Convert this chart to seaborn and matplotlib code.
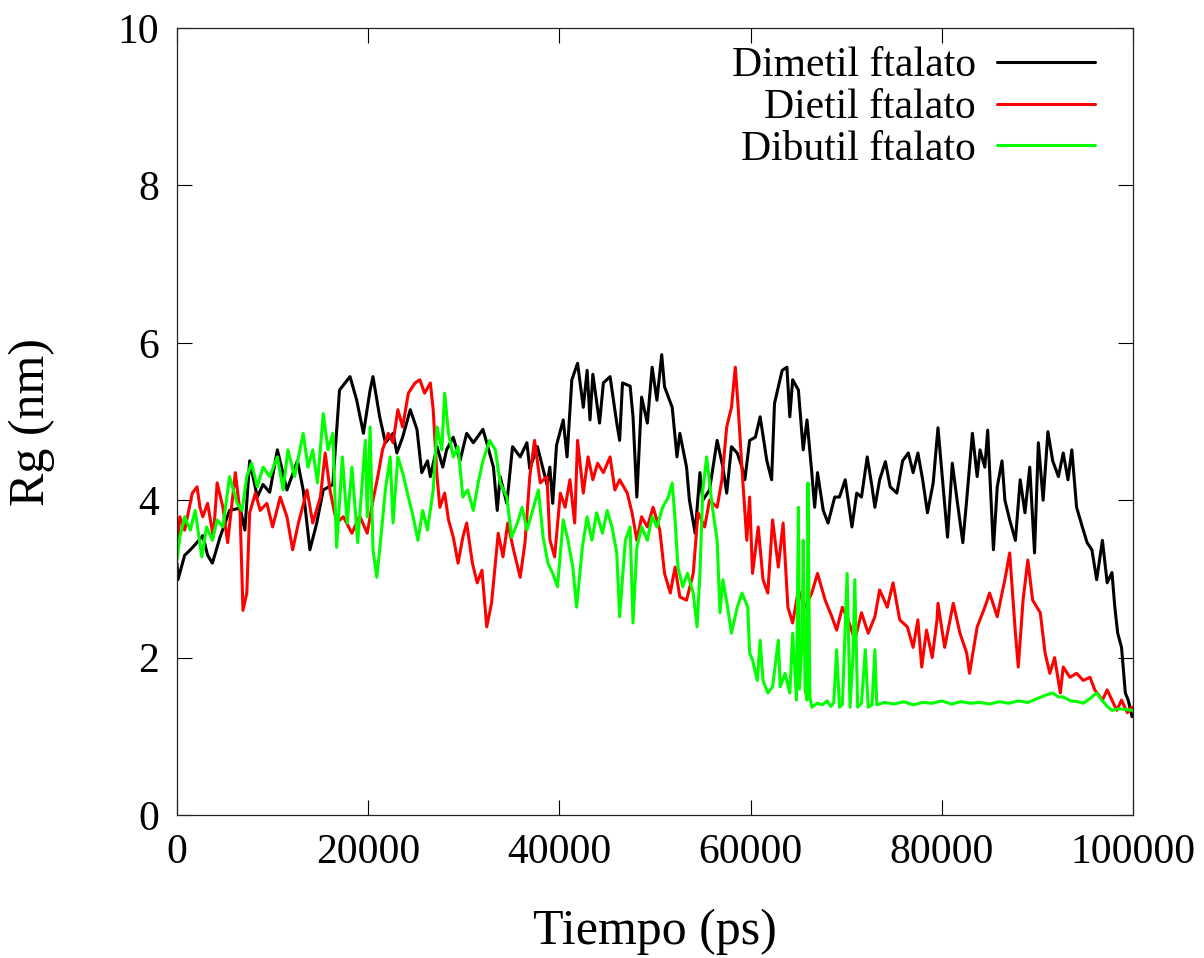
import numpy as np
import pandas as pd
import matplotlib
matplotlib.use("Agg")
import matplotlib.pyplot as plt
import seaborn as sns

# -----------------------------
# DATA
# -----------------------------
series_names = ["Dimetil ftalato", "Dietil ftalato", "Dibutil ftalato"]
series_colors = ["#000000", "#ff0000", "#00ff00"]

t_dimetil = [0, 100, 800, 1400, 2000, 2700, 3200, 3700, 4500, 5000, 5500, 6600, 7100, 7600,
             8400, 9000, 9700, 10500, 11500, 12600, 13200, 13900, 14600, 15300, 16300, 17000,
             18100, 18800, 19500, 20200, 20500, 21200, 21800, 22600, 23000, 23600, 24400, 25100,
             25600, 26200, 26500, 27200, 27800, 28200, 28900, 29600, 30300, 31000, 32000, 32400,
             33100, 33500, 33800, 34500, 35100, 35900, 36600, 36900, 37700, 38700, 39000, 39300,
             39700, 40400, 40800, 41300, 41900, 42500, 42900, 43200, 43500, 44200, 44600, 45300,
             46000, 46300, 46600, 47400, 47700, 48100, 48600, 49200, 49700, 50200, 50700, 51000,
             51800, 52300, 52600, 53300, 53600, 54200, 54700, 55000, 55700, 56500, 57100, 57500,
             58000, 58600, 59100, 59400, 59900, 60500, 61000, 61700, 62200, 62500, 63300, 63800,
             64100, 64400, 65000, 65500, 65900, 66400, 66700, 67000, 67600, 68100, 68800, 69300,
             69900, 70600, 71100, 71600, 72200, 72700, 73000, 73500, 74100, 74600, 75300, 75900,
             76500, 77000, 77500, 78000, 78500, 79100, 79600, 80100, 80600, 81100, 81600, 82200,
             82600, 83200, 83700, 84000, 84500, 84800, 85400, 85800, 86300, 86600, 87100, 87700,
             88200, 88700, 89200, 89700, 90100, 90600, 91100, 91600, 92200, 92700, 93200, 93600,
             94100, 94700, 95200, 95700, 96200, 96800, 97300, 97800, 98100, 98400, 98800, 99200,
             99500, 99900]
rg_dimetil = [3.2, 2.99, 3.3, 3.37, 3.45, 3.55, 3.3, 3.2, 3.53, 3.7, 3.87, 3.9, 3.62, 4.5,
              4.04, 4.2, 4.1, 4.64, 4.13, 4.5, 4.13, 3.37, 3.7, 4.13, 4.2, 5.4,
              5.57, 5.27, 4.85, 5.4, 5.57, 5.06, 4.73, 4.85, 4.6, 4.8, 5.15, 4.9,
              4.35, 4.5, 4.3, 4.68, 4.42, 4.64, 4.8, 4.5, 4.85, 4.73, 4.9, 4.73,
              4.42, 3.87, 4.3, 3.96, 4.68, 4.55, 4.73, 4.4, 4.68, 4.2, 4.42, 3.96,
              4.7, 5.02, 4.55, 5.53, 5.74, 5.18, 5.65, 5.02, 5.6, 4.98, 5.49, 5.57,
              4.98, 4.76, 5.49, 5.45, 5.06, 4.04, 5.31, 4.98, 5.69, 5.27, 5.85, 5.44,
              5.18, 4.55, 4.85, 4.42, 4.0, 3.58, 4.35, 4.0, 4.13, 4.76, 4.42, 4.09,
              4.68, 4.6, 4.42, 4.26, 4.76, 4.8, 5.06, 4.5, 4.26, 5.23, 5.65, 5.69,
              5.06, 5.53, 5.4, 4.64, 5.02, 4.35, 3.91, 4.35, 3.87, 3.71, 4.04, 4.04,
              4.26, 3.66, 4.09, 4.04, 4.55, 4.17, 3.91, 4.26, 4.49, 4.17, 4.09, 4.5,
              4.6, 4.35, 4.6, 4.26, 3.84, 4.22, 4.92, 4.22, 3.53, 4.47, 4.0, 3.46,
              4.0, 4.85, 4.3, 4.64, 4.42, 4.89, 3.37, 4.17, 4.5, 4.0, 3.75, 3.49,
              4.26, 3.84, 4.42, 3.33, 4.73, 4.0, 4.87, 4.5, 4.3, 4.6, 4.26, 4.64,
              3.91, 3.66, 3.46, 3.37, 2.99, 3.49, 2.95, 3.08, 2.64, 2.31, 2.13, 1.55,
              1.46, 1.25]

t_dietil = [0, 300, 800, 1600, 2100, 2400, 2700, 3200, 3800, 4200, 4800, 5300, 6100, 6600,
            6900, 7300, 7600, 8200, 8700, 9400, 10000, 10800, 11500, 12100, 12700, 13600,
            14200, 15000, 15500, 16000, 16700, 17400, 18300, 19100, 19900, 20500, 21000, 21500,
            22100, 22600, 23100, 23600, 24200, 24900, 25400, 25900, 26500, 26800, 27200, 27500,
            28000, 28400, 28900, 29400, 29900, 30300, 30900, 31400, 31900, 32400, 32900, 33300,
            33600, 34100, 34600, 35200, 35900, 36400, 36900, 37400, 38000, 38700, 39000, 39500,
            40100, 40600, 41100, 41600, 41900, 42500, 43000, 43500, 44000, 44600, 45300, 45800,
            46300, 47100, 47600, 48100, 48600, 49200, 49800, 50500, 51000, 51600, 52100, 52600,
            53300, 54000, 54500, 55200, 55700, 56500, 57000, 57500, 58000, 58400, 58700, 59100,
            59600, 59900, 60200, 60800, 61300, 61800, 62300, 62900, 63400, 63900, 64400, 65000,
            65700, 66400, 67000, 67800, 68500, 69000, 69600, 70200, 70900, 71600, 72300, 73000,
            73500, 74300, 74900, 75600, 76400, 77000, 77500, 77900, 78400, 79000, 79500, 79600,
            80300, 81200, 81900, 82600, 82900, 83700, 84500, 85000, 85800, 86300, 86600, 87100,
            87700, 88000, 88500, 89000, 89500, 90300, 90800, 91300, 91800, 92400, 92700, 93400,
            94100, 94800, 95500, 96000, 96800, 97300, 97800, 98300, 98800, 99400, 99900]
rg_dietil = [3.4, 3.79, 3.62, 4.09, 4.17, 3.91, 3.79, 3.96, 3.53, 4.22, 3.91, 3.46, 4.35, 3.84,
             2.6, 2.82, 3.84, 4.09, 3.87, 3.96, 3.66, 4.04, 3.79, 3.37, 3.71, 4.13,
             3.71, 4.04, 4.6, 4.13, 3.71, 3.79, 3.58, 3.8, 3.58, 4.0, 4.3, 4.64,
             4.85, 4.73, 5.15, 4.93, 5.36, 5.49, 5.53, 5.36, 5.49, 5.15, 4.3, 3.91,
             4.09, 3.75, 3.53, 3.2, 3.53, 3.71, 3.2, 2.95, 3.11, 2.39, 2.69, 3.2,
             3.58, 3.28, 3.71, 3.37, 3.02, 3.46, 4.3, 4.76, 4.22, 4.3, 3.5, 3.28,
             4.09, 3.91, 4.26, 3.71, 4.76, 4.09, 4.55, 4.26, 4.47, 4.35, 4.55, 4.13,
             4.26, 4.09, 3.84, 3.49, 3.79, 3.66, 3.91, 3.62, 3.07, 2.82, 3.15, 2.77,
             2.73, 3.07, 3.84, 3.66, 4.0, 3.91, 4.26, 4.93, 5.18, 5.69, 5.18, 4.4,
             3.49, 4.04, 3.07, 3.66, 2.99, 2.82, 3.75, 3.15, 3.71, 2.64, 2.44, 2.86,
             2.64, 2.82, 3.07, 2.73, 2.52, 2.35, 2.64, 2.48, 2.22, 2.57, 2.31, 2.52,
             2.86, 2.64, 2.95, 2.48, 2.39, 2.13, 2.48, 1.88, 2.35, 2.0, 2.48, 2.69,
             2.13, 2.69, 2.31, 2.06, 1.8, 2.39, 2.64, 2.82, 2.52, 2.82, 2.99, 3.33,
             2.31, 1.88, 2.73, 3.24, 2.73, 2.57, 2.06, 1.8, 2.0, 1.55, 1.88, 1.75,
             1.8, 1.71, 1.75, 1.59, 1.46, 1.59, 1.46, 1.33, 1.46, 1.3, 1.37]

t_dibutil = [0, 300, 800, 1400, 1900, 2600, 3100, 3700, 4200, 4800, 5500, 6300, 6800, 7300,
             7800, 8400, 9000, 9700, 10500, 11100, 11600, 12300, 13200, 13700, 14200, 14700,
             15300, 15800, 16300, 16700, 17300, 17800, 18300, 18900, 19700, 19900, 20200, 20500,
             20900, 21200, 21800, 22300, 22600, 23100, 23600, 24200, 24700, 25200, 25700, 26200,
             26800, 27200, 27700, 28000, 28400, 28900, 29400, 29900, 30400, 31000, 31500, 32000,
             32700, 33300, 33800, 34500, 35000, 35600, 36100, 36600, 37200, 37800, 38300, 38800,
             39300, 39800, 40400, 40900, 41400, 41800, 42400, 42900, 43400, 43900, 44500, 45000,
             45500, 46000, 46300, 46900, 47400, 47700, 48100, 48600, 49200, 49700, 50200, 50800,
             51400, 51800, 52100, 52400, 52900, 53400, 54000, 54400, 54700, 55000, 55400, 56000,
             56500, 56800, 57100, 57600, 58000, 58600, 59100, 59400, 59700, 59900, 60200, 60700,
             61000, 61300, 61800, 62300, 62900, 63100, 63600, 64100, 64400, 64800, 65000, 65100,
             65400, 65500, 65700, 65900, 66000, 66200, 66400, 67000, 67500, 68000, 68400, 68700,
             69000, 69300, 69600, 70100, 70400, 70700, 70900, 71200, 71600, 72000, 72300, 72700,
             73000, 73200, 74000, 75000, 76000, 77000, 78000, 79000, 80000, 81000, 82000, 83000,
             84000, 85000, 86000, 87000, 88000, 89000, 90000, 90800, 91600, 92200, 92700, 93500,
             94200, 94800, 95500, 96200, 96800, 97300, 97800, 98500, 99200, 99900]
rg_dibutil = [3.24, 3.53, 3.79, 3.62, 3.87, 3.28, 3.66, 3.49, 3.75, 3.66, 4.3, 3.96, 3.87, 4.3,
              4.47, 4.17, 4.42, 4.3, 4.55, 4.13, 4.64, 4.3, 4.85, 4.42, 4.64, 4.22,
              5.1, 4.64, 4.85, 3.4, 4.55, 3.71, 4.42, 3.46, 4.76, 3.79, 4.93, 3.37,
              3.02, 3.37, 4.13, 4.55, 3.71, 4.55, 4.35, 4.04, 3.79, 3.49, 3.87, 3.62,
              4.13, 4.93, 4.64, 5.36, 4.85, 4.55, 4.68, 4.04, 4.13, 3.87, 4.22, 4.5,
              4.76, 4.64, 4.22, 4.04, 3.53, 3.71, 3.91, 3.62, 3.87, 4.13, 3.53, 3.2,
              3.07, 2.9, 3.75, 3.49, 3.15, 2.64, 3.4, 3.79, 3.49, 3.84, 3.58, 3.87,
              3.66, 3.33, 2.52, 3.49, 3.66, 2.44, 3.4, 3.66, 3.49, 3.79, 3.66, 3.91,
              4.04, 4.22, 3.75, 3.15, 2.9, 3.07, 2.82, 2.39, 3.07, 4.13, 4.55, 3.91,
              3.49, 2.57, 2.99, 2.64, 2.31, 2.64, 2.82, 2.73, 2.64, 2.06, 1.97, 1.71,
              2.22, 1.71, 1.55, 1.63, 2.22, 1.63, 1.8, 1.55, 2.31, 1.46, 3.91, 1.6,
              2.22, 3.49, 1.6, 1.46, 4.22, 1.5, 1.37, 1.42, 1.4, 1.45, 1.38, 1.43,
              2.1, 1.37, 1.4, 3.07, 1.37, 2.0, 2.99, 1.37, 1.42, 2.1, 1.37, 1.4,
              2.1, 1.4, 1.43, 1.41, 1.44, 1.4, 1.43, 1.42, 1.45, 1.41, 1.44, 1.42,
              1.43, 1.41, 1.44, 1.42, 1.45, 1.43, 1.48, 1.52, 1.55, 1.5, 1.5, 1.45,
              1.44, 1.42, 1.48, 1.55, 1.45, 1.38, 1.33, 1.35, 1.34, 1.33]

# -----------------------------
# LONG TABLE FOR SEABORN
# -----------------------------
frames = []
for name, t, rg in zip(series_names,
                       [t_dimetil, t_dietil, t_dibutil],
                       [rg_dimetil, rg_dietil, rg_dibutil]):
    frames.append(pd.DataFrame({"t": t, "rg": rg, "serie": name}))
df = pd.concat(frames, ignore_index=True)

# -----------------------------
# PLOT
# -----------------------------
sns.set_style("ticks")
plt.rcParams["font.family"] = ["Liberation Serif", "DejaVu Serif"]
plt.rcParams["text.color"] = "black"
plt.rcParams["axes.labelcolor"] = "black"

fig = plt.figure(figsize=(12.04, 9.58), dpi=100)
ax = fig.add_axes([177 / 1204, 1 - 815 / 958, 956 / 1204, 787 / 958])

sns.lineplot(data=df, x="t", y="rg", hue="serie", hue_order=series_names,
             palette=series_colors, estimator=None, sort=False,
             linewidth=2.2, ax=ax)

ax.set_xlim(0, 100000)
ax.set_ylim(0, 10)
ax.set_xticks(np.arange(0, 100001, 20000))
ax.set_yticks(np.arange(0, 11, 2))
ax.tick_params(direction="in", length=11, width=0.8, labelsize=30,
               top=True, right=True, pad=13, colors="black")
for sp in ax.spines.values():
    sp.set_linewidth(0.9)
    sp.set_color("#222222")

ax.set_xlabel("Tiempo (ps)", fontsize=36)
ax.set_ylabel("Rg (nm)", fontsize=36)
ax.xaxis.set_label_coords(0.5, -0.119)
ax.yaxis.set_label_coords(-0.128, 0.5)

ax.legend(loc="upper right", bbox_to_anchor=(0.960, 0.976), frameon=False,
          markerfirst=False, fontsize=30, handlelength=2.35, handletextpad=0.5,
          labelspacing=0.08, borderpad=0, borderaxespad=0)

fig.savefig("out.png", dpi=100)
